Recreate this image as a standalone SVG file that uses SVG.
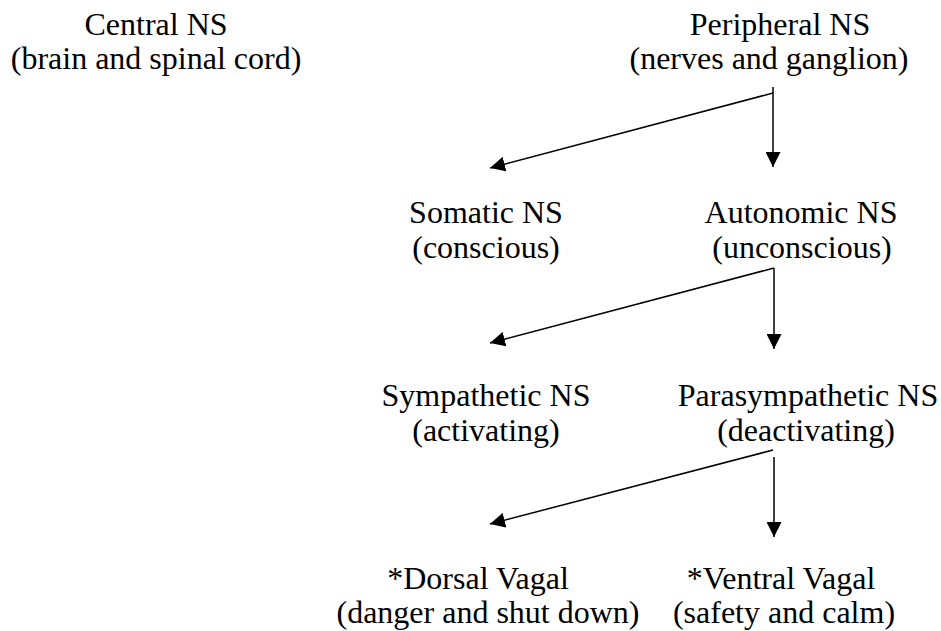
<svg xmlns="http://www.w3.org/2000/svg" width="941" height="631" viewBox="0 0 941 631">
<style>
.t text{font-size:32px;fill:#000;text-anchor:middle}
.c{stroke:#000;stroke-width:1.5;fill:none}
</style>
<defs>
<marker id="ah" viewBox="0 0 10 10" refX="10" refY="5" markerWidth="15" markerHeight="15" markerUnits="userSpaceOnUse" orient="auto">
<path d="M0,0 L10,5 L0,10 z" fill="#000"/>
</marker>
</defs>
<rect width="941" height="631" fill="#fff"/>
<g class="t" font-family="'Liberation Serif', 'Times New Roman', 'DejaVu Serif', serif">
<g id="central">
<text x="156" y="35">Central NS</text>
<text x="156" y="69">(brain and spinal cord)</text>
</g>
<g id="peripheral">
<text x="780" y="35">Peripheral NS</text>
<text x="769" y="69">(nerves and ganglion)</text>
</g>
<g id="somatic">
<text x="486" y="223">Somatic NS</text>
<text x="486" y="258">(conscious)</text>
</g>
<g id="autonomic">
<text x="801" y="223">Autonomic NS</text>
<text x="802" y="258">(unconscious)</text>
</g>
<g id="sympathetic">
<text x="486" y="406">Sympathetic NS</text>
<text x="486" y="441">(activating)</text>
</g>
<g id="parasympathetic">
<text x="808" y="406">Parasympathetic NS</text>
<text x="806" y="441">(deactivating)</text>
</g>
<g id="dorsal">
<text x="478" y="589">*Dorsal Vagal</text>
<text x="488" y="623">(danger and shut down)</text>
</g>
<g id="ventral">
<text x="781" y="589">*Ventral Vagal</text>
<text x="784" y="623">(safety and calm)</text>
</g>
</g>
<g id="connectors">
<line class="c" x1="773" y1="93" x2="490" y2="168" marker-end="url(#ah)"/>
<line class="c" x1="773" y1="87" x2="773" y2="167" marker-end="url(#ah)"/>
<line class="c" x1="774" y1="268" x2="490" y2="343" marker-end="url(#ah)"/>
<line class="c" x1="774" y1="268" x2="774" y2="349" marker-end="url(#ah)"/>
<line class="c" x1="773" y1="450" x2="490" y2="524" marker-end="url(#ah)"/>
<line class="c" x1="774" y1="457" x2="774" y2="537" marker-end="url(#ah)"/>
</g>
</svg>
